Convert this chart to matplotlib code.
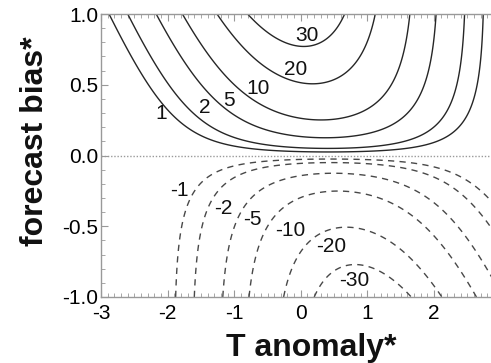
import math
import numpy as np
import matplotlib
matplotlib.use("Agg")
import matplotlib.pyplot as plt
from matplotlib.ticker import MultipleLocator

# ---- data ----
x_ticks = [-3, -2, -1, 0, 1, 2]
y_ticks = [-1.0, -0.5, 0.0, 0.5, 1.0]
y_tick_labels = ["-1.0", "-0.5", "0.0", "0.5", "1.0"]
pos_levels = [1, 2, 5, 10, 20, 30]
neg_levels = [-30, -20, -10, -5, -2, -1]
t_range = [-3.0, 3.0]
bias_range = [-1.0, 1.0]
# field parameters estimated from contour shapes
peak_shift = 0.43     # T anomaly* at which the small-bias response peaks
field_scale = 100.0   # percent

# ---- label placement (style) ----
pos_label_xy = [(-2.09, 0.295), (-1.44, 0.34), (-1.08, 0.39),
                (-0.64, 0.47), (-0.075, 0.61), (0.085, 0.85)]
neg_label_xy = [(0.81, -0.883), (0.46, -0.643), (-0.165, -0.53),
                (-0.73, -0.455), (-1.17, -0.377), (-1.83, -0.247)]

plt.rcParams["font.family"] = ["Liberation Sans", "DejaVu Sans"]

erf = np.vectorize(math.erf)


def Phi(z):
    return 0.5 * (1.0 + erf(z / math.sqrt(2.0)))


T = np.linspace(t_range[0], t_range[1], 401)
B = np.linspace(bias_range[0], bias_range[1], 401)
TT, BB = np.meshgrid(T, B)
Z = field_scale * (Phi(TT - peak_shift + BB) - Phi(TT - peak_shift))

W, H = 491, 363
fig = plt.figure(figsize=(W / 100, H / 100), dpi=100)
ax = fig.add_axes([101 / W, (H - 297) / H, 399.6 / W, 283 / H])

ax.contour(TT, BB, Z, levels=pos_levels, colors="#262626",
           linewidths=1.0, linestyles="solid")
ax.contour(TT, BB, Z, levels=neg_levels, colors="#484848",
           linewidths=1.0, linestyles=[(0, (4.5, 3.8))])
ax.axhline(0.0, color="#9a9a9a", lw=1.0, ls=(0, (1, 1.3)))

for lev, (x, y) in zip(pos_levels, pos_label_xy):
    ax.text(x, y, str(lev), ha="center", va="center", fontsize=15, color="#111111")
for lev, (x, y) in zip(neg_levels, neg_label_xy):
    ax.text(x, y, str(lev), ha="center", va="center", fontsize=15, color="#111111")

ax.set_xlim(t_range)
ax.set_ylim(bias_range)
ax.set_xticks(x_ticks)
ax.set_xticklabels([str(v) for v in x_ticks])
ax.set_yticks(y_ticks)
ax.set_yticklabels(y_tick_labels)
ax.xaxis.set_minor_locator(MultipleLocator(0.1))
ax.yaxis.set_minor_locator(MultipleLocator(0.1))
ax.tick_params(which="both", direction="in", top=True, right=True,
               color="#999999", labelsize=15)
ax.tick_params(which="major", length=5, width=0.8)
ax.tick_params(which="minor", length=3, width=0.6)
ax.tick_params(axis="x", pad=5)
ax.tick_params(axis="y", pad=2)
for s in ax.spines.values():
    s.set_color("#999999")
    s.set_linewidth(1.0)

fig.text(311 / W, 1 - 356 / H, "T anomaly*", ha="center", va="baseline",
         fontsize=23, fontweight="bold", color="#111111")
fig.text(43 / W, 1 - 141.5 / H, "forecast bias*", ha="center", va="baseline",
         rotation=90, rotation_mode="anchor",
         fontsize=23, fontweight="bold", color="#111111")

fig.savefig("out.png", dpi=100)
